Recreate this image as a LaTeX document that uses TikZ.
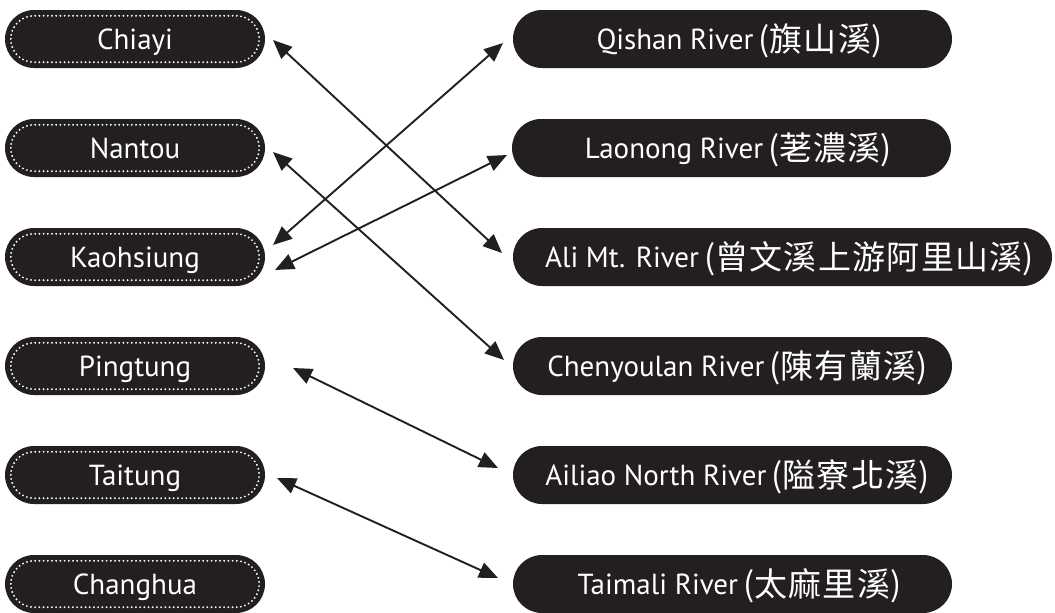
\documentclass[tikz,border=0pt]{standalone}
\usepackage{fontspec}
\setmainfont{PT Sans}
\newfontfamily\cjk[LetterSpace=4]{Noto Sans CJK TC}
\newfontfamily\cjkp{Noto Sans CJK TC}
\usetikzlibrary{arrows.meta}
\definecolor{ink}{HTML}{231F20}
\newcommand{\zh}[1]{\hspace{5pt}\raisebox{-2.5pt}{\fontsize{33}{38}\selectfont\cjkp(\cjk #1\cjkp)}}
\tikzset{
  pill/.style={fill=ink, text=white, rounded corners=29pt, minimum height=58pt, inner sep=0pt,
    text height=20pt, text depth=0pt, font=\fontsize{29}{34}\selectfont},
  leftpill/.style={pill, minimum width=260pt},
  rightpill/.style={pill, minimum width=439pt},
  dots/.style={draw=white, line width=2.1pt, dash pattern=on 0pt off 4.2pt, line cap=round, rounded corners=23pt},
  arr/.style={draw=ink, line width=1.9pt, {Triangle[length=19pt,width=16pt]}-{Triangle[length=19pt,width=16pt]}}
}
\newcommand{\dottedrim}[1]{\draw[dots] ([shift={(6,6)}]#1.north west) rectangle ([shift={(-6,-6)}]#1.south east);}
\begin{document}
\begin{tikzpicture}[x=1pt,y=-1pt]
\useasboundingbox (0,0) rectangle (1055,613);
\fill[white] (0,0) rectangle (1055,613);
% left column
\node[leftpill] (chiayi) at (135,39) {Chiayi};
\node[leftpill] (nantou) at (135,148) {Nantou};
\node[leftpill] (kaoh) at (135,257) {Kaohsiung};
\node[leftpill] (ping) at (135,366) {Pingtung};
\node[leftpill] (tait) at (135,475) {Taitung};
\node[leftpill] (chang) at (135,584) {Changhua};
\foreach \n in {chiayi,nantou,kaoh,ping,tait,chang} {\dottedrim{\n}}
% right column
\node[rightpill] (qishan) at (732.5,39) {\hspace{14pt}Qishan River\zh{旗山溪}};
\node[rightpill] (laonong) at (731.5,148) {\hspace{14pt}Laonong River\zh{荖濃溪}};
\node[pill, minimum width=539pt] (ali) at (782.5,257) {\hspace{14pt}Ali Mt. River\zh{曾文溪上游阿里山溪}};
\node[rightpill] (cheny) at (732.5,366) {\hspace{10pt}Chenyoulan River\zh{陳有蘭溪}};
\node[rightpill] (ailiao) at (732.5,475) {\hspace{10pt}Ailiao North River\zh{隘寮北溪}};
\node[rightpill] (taimali) at (732.5,584) {\hspace{14pt}Taimali River\zh{太麻里溪}};
% arrow end points
\coordinate (a1) at (273,40);  \coordinate (b1) at (502,253);
\coordinate (a2) at (273,152); \coordinate (b2) at (504,360);
\coordinate (a3) at (273,245); \coordinate (b3) at (503,43);
\coordinate (a4) at (275,270); \coordinate (b4) at (507,155);
\coordinate (a5) at (293,368); \coordinate (b5) at (498,468);
\coordinate (a6) at (277,478); \coordinate (b6) at (498,578);
\foreach \i in {1,...,6} {\draw[arr] (a\i) -- (b\i);}
\end{tikzpicture}
\end{document}
